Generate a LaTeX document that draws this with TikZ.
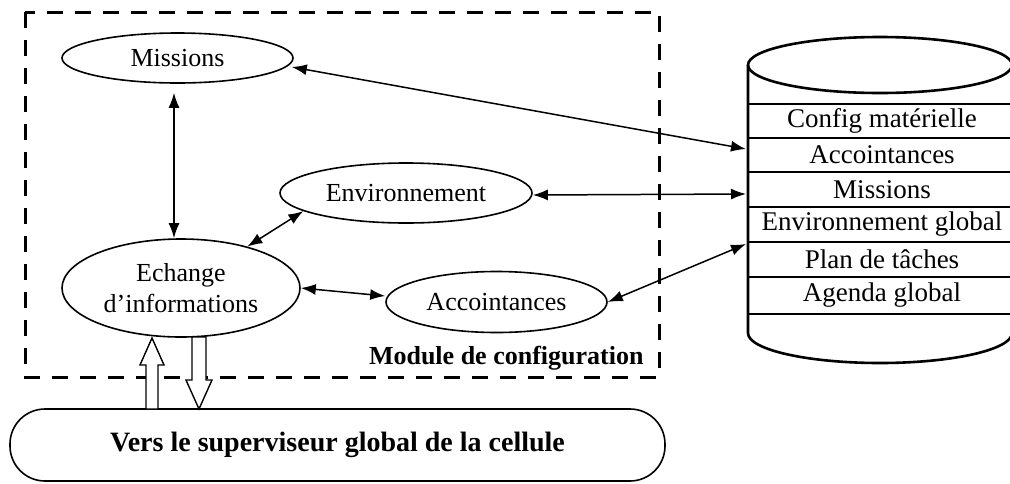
\documentclass[tikz,border=0pt]{standalone}
\usepackage{fontspec}
\setmainfont{Liberation Serif}
\usetikzlibrary{shapes.geometric,arrows.meta,calc}
\begin{document}
\begin{tikzpicture}[x=1pt,y=-1pt,
  txt/.style={font=\fontsize{26}{31}\selectfont},
  rowtxt/.style={font=\fontsize{27}{31}\selectfont},
  bold/.style={font=\fontsize{26}{31}\selectfont\bfseries},
  oval/.style={ellipse, draw, line width=1.6pt, inner sep=0pt, txt, align=center},
  biarrow/.style={{Latex[length=15pt,width=11pt]}-{Latex[length=15pt,width=11pt]}, line width=1.5pt},
  hollow/.style={draw, line width=1.4pt, fill=white, line join=miter},
  modulebox/.style={draw, line width=3pt, dash pattern=on 16pt off 12pt},
  cyl/.style={draw, line width=2.6pt},
  rowline/.style={draw, line width=1.5pt},
]
\useasboundingbox (0,0) rectangle (1010,483);
\clip (0,0) rectangle (1010,483);

% module boundary
\draw[modulebox] (25,12) rectangle (659,377);
\node[bold, anchor=base east] (mod) at (647,364) {Module de configuration};

% functions of the module
\node[oval, minimum width=231pt, minimum height=50pt] (mis) at (177.5,58) {Missions};
\node[oval, minimum width=252pt, minimum height=60pt] (env) at (406,193) {Environnement};
\node[oval, minimum width=238pt, minimum height=98pt] (ech) at (181,288) {Echange\\d’informations};
\node[oval, minimum width=221pt, minimum height=61pt] (acc) at (496.5,302) {Accointances};

% global supervisor
\node[draw, line width=1.6pt, rounded corners=35pt, minimum width=655pt, minimum height=72pt,
  font=\fontsize{28}{31}\selectfont\bfseries]
  (sup) at (337.5,445) {Vers le superviseur global de la cellule};

% database cylinder
\draw[cyl] (880,65) ellipse [x radius=132, y radius=28];
\draw[cyl] (748,65) -- (748,333)
  .. controls (748,349.6) and (807.1,363) .. (880,363)
  .. controls (952.9,363) and (1012,349.6) .. (1012,333) -- (1012,65);
\foreach \yy in {104,138,172,207,242,277,314}
  \draw[rowline] (748,\yy) -- (1012,\yy);
\node[rowtxt] (r1) at (882,121) {Config matérielle};
\node[rowtxt] (r2) at (882,155) {Accointances};
\node[rowtxt] (r3) at (882,189.5) {Missions};
\node[rowtxt] (r4) at (882,224.5) {Environnement global};
\node[rowtxt] (r5) at (882,259.5) {Plan de tâches};
\node[rowtxt] (r6) at (882,295.5) {Agenda global};

% connector ends on the cylinder wall
\coordinate (cA) at (746,149);
\coordinate (cE) at (746,194);
\coordinate (cC) at (746,244);

% exchanges
\draw[biarrow] ([xshift=-2pt,yshift=-9pt]mis.east) -- (cA);
\draw[biarrow] ([yshift=-2pt]env.east) -- (cE);
\draw[biarrow] (acc.east) -- (cC);
\draw[biarrow] ([xshift=-3.5pt,yshift=-9pt]mis.south) -- ([xshift=-7pt]ech.north);
\draw[biarrow] (ech.32) -- (env.190);
\draw[biarrow] (ech.east) -- ([yshift=6pt]acc.west);

% hollow arrows between the exchange function and the supervisor
\coordinate (upT) at (152,338);
\coordinate (dnB) at (199,409);
\path[hollow] (upT) -- ++(12,27) -- ++(-6,0) -- ++(0,44) -- ++(-12,0)
  -- ++(0,-44) -- ++(-6,0) -- cycle;
\path[hollow] (dnB) -- ++(13,-29) -- ++(-6,0) -- ++(0,-43) -- ++(-14,0)
  -- ++(0,43) -- ++(-6,0) -- cycle;
\end{tikzpicture}
\end{document}
